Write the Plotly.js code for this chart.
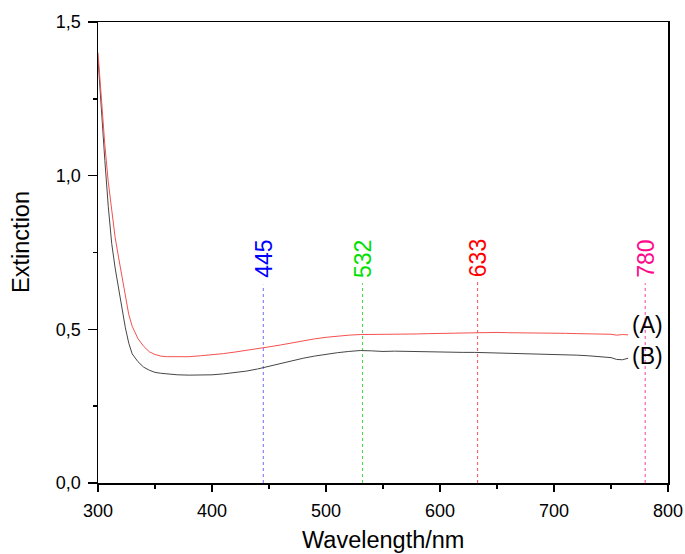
<!DOCTYPE html>
<html>
<head>
<meta charset="utf-8">
<script src="https://cdn.plot.ly/plotly-3.0.1.min.js"></script>
<style>html,body{margin:0;padding:0;background:#fff;}#chart{width:685px;height:554px;}</style>
</head>
<body>
<div id="chart"></div>
<script>
// Wavelength grid (nm)
const wavelength = [300,303,306,309,312,315,318,321,324,327,330,335,340,345,350,355,360,370,380,390,400,410,420,430,440,450,460,470,480,490,500,510,520,530,540,550,560,570,580,590,600,610,620,630,640,650,660,670,680,690,700,710,720,730,740,750,755,760,765];
// Series (A) - red
const seriesA = [1.40,1.24,1.10,0.98,0.88,0.80,0.735,0.67,0.61,0.548,0.51,0.47,0.445,0.427,0.418,0.413,0.411,0.410,0.411,0.414,0.417,0.421,0.426,0.431,0.437,0.443,0.449,0.456,0.463,0.469,0.474,0.478,0.481,0.483,0.483,0.483,0.484,0.484,0.485,0.486,0.487,0.487,0.488,0.489,0.489,0.490,0.489,0.489,0.488,0.488,0.487,0.487,0.486,0.486,0.485,0.484,0.481,0.483,0.482];
// Series (B) - black
const seriesB = [1.38,1.20,1.05,0.90,0.78,0.70,0.63,0.565,0.505,0.455,0.42,0.395,0.377,0.367,0.360,0.357,0.355,0.352,0.351,0.351,0.352,0.355,0.359,0.364,0.371,0.380,0.389,0.398,0.406,0.413,0.419,0.424,0.428,0.431,0.430,0.428,0.429,0.428,0.427,0.427,0.426,0.426,0.425,0.425,0.424,0.425,0.424,0.423,0.421,0.420,0.419,0.418,0.416,0.414,0.411,0.408,0.402,0.401,0.406];
// Laser marker lines
const markerWl = [445,532,633,780];
const markerTop = [0.645,0.65,0.654,0.65];
const markerLabels = ['445','532','633','780'];
const markerTextColors = ['#0000ff','#00e000','#ff0000','#ff0a8c'];
const markerLineColors = ['#7070ff','#40dd40','#ff5050','#ff3fa0'];
// Curve labels
const curveLabels = ['(A)','(B)'];
const curveLabelY = [0.514,0.413];
const curveLabelX = 782;

const font = 'Liberation Sans, Arial, sans-serif';

const traces = [];
markerWl.forEach((w,i)=>{
  traces.push({x:[w,w], y:[0,markerTop[i]], mode:'lines', line:{color:markerLineColors[i], width:1, dash:'dot'}, hoverinfo:'skip', showlegend:false});
});
traces.push({x:wavelength, y:seriesB, mode:'lines', line:{color:'rgb(70,70,70)', width:1}, showlegend:false});
traces.push({x:wavelength, y:seriesA, mode:'lines', line:{color:'rgb(245,80,80)', width:1}, showlegend:false});

const annotations = [];
markerWl.forEach((w,i)=>{
  annotations.push({x:w, y:0.662, xref:'x', yref:'y', text:markerLabels[i], textangle:-90, showarrow:false, xanchor:'center', yanchor:'bottom', font:{family:font, size:23, color:markerTextColors[i]}});
});
curveLabels.forEach((t,i)=>{
  annotations.push({x:curveLabelX, y:curveLabelY[i], xref:'x', yref:'y', text:t, showarrow:false, xanchor:'center', yanchor:'middle', font:{family:font, size:23, color:'#000'}});
});
annotations.push({x:0, y:0.523, xref:'paper', yref:'paper', xshift:-77, text:'Extinction', textangle:-90, showarrow:false, xanchor:'center', yanchor:'middle', font:{family:font, size:23.5, color:'#000'}});
annotations.push({x:0.5, y:0, xref:'paper', yref:'paper', yshift:-57, text:'Wavelength/nm', showarrow:false, xanchor:'center', yanchor:'middle', font:{family:font, size:23.5, color:'#000'}});

const layout = {
  width:685, height:554,
  margin:{l:98, r:17, t:22, b:71},
  paper_bgcolor:'#fff', plot_bgcolor:'#fff',
  separators:',.',
  font:{family:font, color:'#000'},
  xaxis:{range:[300,800], dtick:100, tick0:300, ticks:'outside', ticklen:7, tickwidth:1.5, tickcolor:'#000',
    minor:{dtick:50, ticks:'outside', ticklen:4, tickwidth:1.5, tickcolor:'#000', showgrid:false},
    showline:true, linewidth:1.5, linecolor:'#000', mirror:true, showgrid:false, zeroline:false,
    ticklabelstandoff:4,
    tickfont:{family:font, size:18, color:'#000'}},
  yaxis:{range:[0,1.5], dtick:0.5, tick0:0, tickformat:'.1f', ticks:'outside', ticklen:9, tickwidth:1.5, tickcolor:'#000',
    minor:{dtick:0.25, ticks:'outside', ticklen:4, tickwidth:1.5, tickcolor:'#000', showgrid:false},
    showline:true, linewidth:1.5, linecolor:'#000', mirror:true, showgrid:false, zeroline:false,
    ticklabelstandoff:3,
    tickfont:{family:font, size:18, color:'#000'}},
  annotations:annotations
};
Plotly.newPlot('chart', traces, layout, {staticPlot:true, displayModeBar:false});
</script>
</body>
</html>
